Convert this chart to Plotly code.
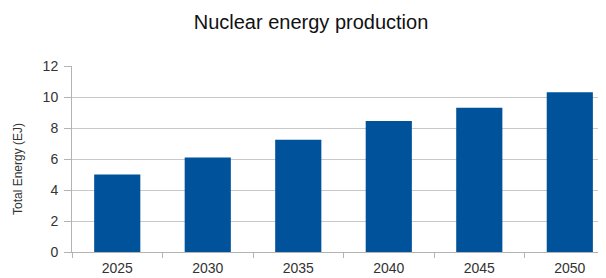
import plotly.graph_objects as go

years = ["2025", "2030", "2035", "2040", "2045", "2050"]
energy = [5.0, 6.1, 7.25, 8.45, 9.3, 10.3]
y_ticks = [0, 2, 4, 6, 8, 10, 12]

# page body has an 8px margin; compensate so the plot lands where the reference has it
OFF = 8
W, H = 606, 278
L, T = 72 - OFF, 66 - OFF
B = (H + OFF) - 252
R = OFF
pw = W - L - R
ph = H - T - B

fig = go.Figure(go.Bar(
    x=years, y=energy, width=0.51,
    marker=dict(color="#00529b", line=dict(width=0)),
))

fig.update_layout(
    width=W, height=H,
    margin=dict(l=L, r=R, t=T, b=B, autoexpand=False),
    paper_bgcolor="white", plot_bgcolor="white",
    showlegend=False,
    font=dict(family="Liberation Sans, Arial, sans-serif", color="#222222"),
    title=dict(text="Nuclear energy production", x=(311 - OFF) / W, xanchor="center",
               y=1 - (22 - OFF) / H, yanchor="middle", yref="container",
               font=dict(size=20, color="#111111")),
    annotations=[dict(
        text="Total Energy (EJ)", textangle=-90, showarrow=False,
        xref="paper", yref="paper", x=(18 - OFF - L) / pw, y=(252 - 169) / ph,
        xanchor="center", yanchor="middle",
        font=dict(size=12, color="#333333"),
    )],
)
fig.update_xaxes(
    type="category", range=[-0.5, 5.40], automargin=False,
    showline=True, linecolor="#b3b3b3", linewidth=1,
    ticks="outside", tickson="boundaries", ticklen=5, tickcolor="#b3b3b3",
    ticklabelstandoff=3,
    tickfont=dict(size=14, color="#333333"),
    showgrid=False,
)
fig.update_yaxes(
    range=[0, 12], tickvals=y_ticks, automargin=False,
    showline=True, linecolor="#b3b3b3", linewidth=1,
    ticks="outside", ticklen=7, tickcolor="#b3b3b3",
    ticklabelstandoff=3,
    showgrid=True, gridcolor="#c8c8c8", gridwidth=1,
    zeroline=False,
    tickfont=dict(size=14, color="#333333"),
)

fig.write_html("out.html")
